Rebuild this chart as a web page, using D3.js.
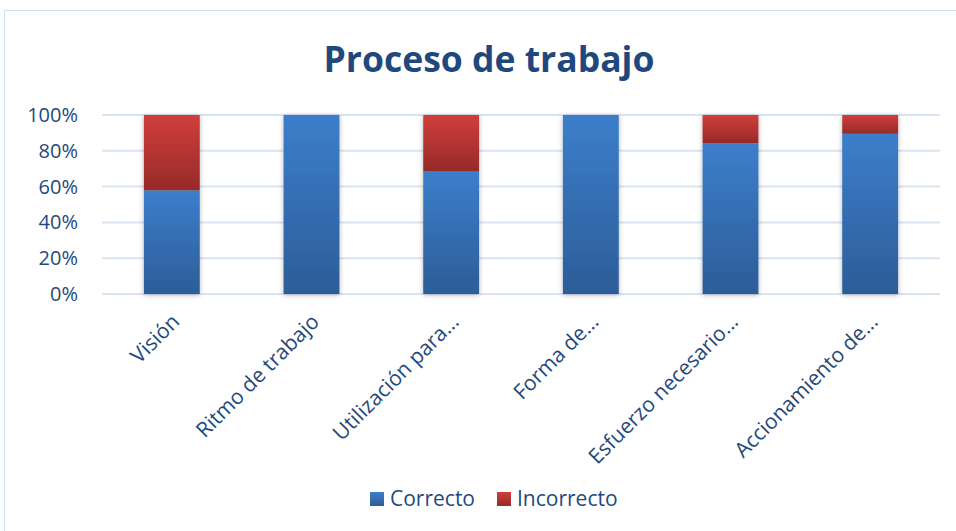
<!DOCTYPE html>
<html>
<head>
<meta charset="utf-8">
<script src="https://cdn.jsdelivr.net/npm/d3@7"></script>
<style>
  body { margin: 0; background: #fff; }
  svg text { font-family: "Open Sans", sans-serif; }
</style>
</head>
<body>
<svg id="chart" width="956" height="531"></svg>
<script>
let categories = ['Visión', 'Ritmo de trabajo', 'Utilización para...', 'Forma de...', 'Esfuerzo necesario...', 'Accionamiento de...'];
let correcto = [57.9, 100, 68.4, 100, 84.2, 89.5];
let incorrecto = [42.1, 0, 31.6, 0, 15.8, 10.5];
let yTicks = [0, 20, 40, 60, 80, 100];
let seriesNames = ['Correcto', 'Incorrecto'];

let textColor = '#1f497d';

let svg = d3.select('#chart');

let margin = { top: 115, right: 16, bottom: 237, left: 102 };
let width = +svg.attr('width') - margin.left - margin.right;
let height = +svg.attr('height') - margin.top - margin.bottom;

// chart border
svg.append('path')
	.attr('d', 'M4.5,600 L4.5,10.5 L1000,10.5')
	.attr('fill', 'none')
	.attr('stroke', '#d0dff0')
	.attr('stroke-width', 1);

let defs = svg.append('defs');

let blueGrad = defs.append('linearGradient')
	.attr('id', 'blueGrad')
	.attr('x1', 0).attr('y1', 0).attr('x2', 0).attr('y2', 1);
blueGrad.append('stop').attr('offset', '0%').attr('stop-color', '#3c7ecb');
blueGrad.append('stop').attr('offset', '100%').attr('stop-color', '#2c5d98');

let redGrad = defs.append('linearGradient')
	.attr('id', 'redGrad')
	.attr('x1', 0).attr('y1', 0).attr('x2', 0).attr('y2', 1);
redGrad.append('stop').attr('offset', '0%').attr('stop-color', '#d03e3b');
redGrad.append('stop').attr('offset', '100%').attr('stop-color', '#962a2a');

let shadow = defs.append('filter')
	.attr('id', 'shadow')
	.attr('x', '-30%').attr('y', '-10%').attr('width', '160%').attr('height', '120%');
shadow.append('feDropShadow')
	.attr('dx', 0).attr('dy', 1)
	.attr('stdDeviation', 2.5)
	.attr('flood-color', '#000')
	.attr('flood-opacity', 0.3);

// title
svg.append('text')
	.attr('x', 489)
	.attr('y', 72)
	.attr('text-anchor', 'middle')
	.attr('font-size', '35.5px')
	.attr('font-weight', 'bold')
	.attr('fill', textColor)
	.text('Proceso de trabajo');

let chart = svg.append('g')
	.attr('transform', 'translate(' + margin.left + ', ' + margin.top + ')');

let x = d3.scaleBand()
	.domain(categories)
	.range([0, width])
	.paddingInner(0.6)
	.paddingOuter(0.3);

let y = d3.scaleLinear()
	.domain([0, 100])
	.range([height, 0]);

// gridlines
chart.selectAll('.grid')
	.data(yTicks)
	.enter()
	.append('line')
	.attr('x1', 0)
	.attr('x2', width)
	.attr('y1', d => y(d))
	.attr('y2', d => y(d))
	.attr('stroke', '#d9e4f3')
	.attr('stroke-width', 2);

let yAxis = d3.axisLeft(y)
	.tickValues(yTicks)
	.tickSize(0)
	.tickPadding(24)
	.tickFormat(d => d + '%');

chart.append('g')
	.call(yAxis)
	.call(g => g.select('.domain').remove())
	.selectAll('text')
	.attr('font-size', '20px')
	.attr('font-family', '"Open Sans", sans-serif')
	.attr('fill', textColor);

let rows = categories.map((c, i) => ({ cat: c, correcto: correcto[i], incorrecto: incorrecto[i] }));

let bars = chart.append('g').attr('filter', 'url(#shadow)');

bars.selectAll('.correcto')
	.data(rows)
	.enter()
	.append('rect')
	.attr('x', d => x(d.cat))
	.attr('width', x.bandwidth())
	.attr('y', d => y(d.correcto))
	.attr('height', d => y(0) - y(d.correcto))
	.attr('fill', 'url(#blueGrad)');

bars.selectAll('.incorrecto')
	.data(rows.filter(d => d.incorrecto > 0))
	.enter()
	.append('rect')
	.attr('x', d => x(d.cat))
	.attr('width', x.bandwidth())
	.attr('y', d => y(d.correcto + d.incorrecto))
	.attr('height', d => y(d.correcto) - y(d.correcto + d.incorrecto))
	.attr('fill', 'url(#redGrad)');

// category labels
let xAxis = d3.axisBottom(x).tickSize(0).tickPadding(0);

chart.append('g')
	.attr('transform', 'translate(0, ' + height + ')')
	.call(xAxis)
	.call(g => g.select('.domain').remove())
	.selectAll('text')
	.attr('font-size', '21px')
	.attr('font-family', '"Open Sans", sans-serif')
	.attr('fill', textColor)
	.attr('text-anchor', 'end')
	.attr('dy', 0)
	.attr('transform', 'translate(9, 29) rotate(-45)');

// legend
let legend = svg.append('g').attr('transform', 'translate(370, 499)');
let legendX = [0, 127];
let legendFill = ['url(#blueGrad)', 'url(#redGrad)'];

seriesNames.forEach(function(name, i) {
	let item = legend.append('g').attr('transform', 'translate(' + legendX[i] + ', 0)');
	item.append('rect')
		.attr('x', 0).attr('y', -7)
		.attr('width', 14).attr('height', 14)
		.attr('fill', legendFill[i]);
	item.append('text')
		.attr('x', 20)
		.attr('y', 7)
		.attr('font-size', '21px')
		.attr('fill', textColor)
		.text(name);
});
</script>
</body>
</html>
